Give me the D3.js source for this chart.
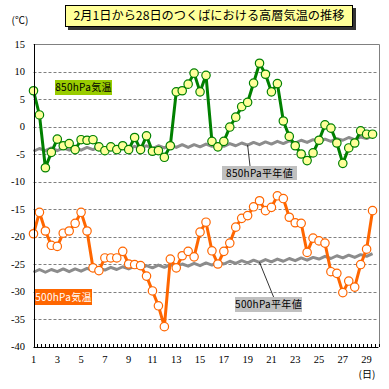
<!DOCTYPE html>
<html><head><meta charset="utf-8">
<script src="https://cdn.jsdelivr.net/npm/d3@7"></script>
<style>html,body{margin:0;padding:0;background:#fff;}</style>
</head><body>
<svg id="c" width="389" height="389"></svg>
<script>
// data: observations twice a day (index i -> day 1 + i*0.5)
const t850 = [6.5,2.1,-7.5,-4.7,-2.3,-3.5,-3.1,-4.2,-2.4,-2.5,
  -2.4,-3.7,-4.4,-3.7,-4.2,-3.5,-4.2,-2.0,-4.2,-1.7,
  -4.5,-4.4,-5.6,-3.5,6.3,6.5,7.7,9.7,6.3,9.3,
  -2.7,-3.7,-2.7,-0.1,1.7,3.6,4.4,7.9,11.5,9.5,
  6.3,7.8,1.0,-1.8,-3.5,-5.0,-6.2,-4.8,-2.5,0.3,
  -0.3,-3.0,-6.7,-3.9,-3.0,-0.8,-1.4,-1.4];
const t500 = [-19.5,-15.6,-19.0,-21.6,-21.8,-19.4,-19.0,-17.6,-15.6,-19.0,
  -25.7,-26.2,-23.9,-23.9,-23.9,-22.7,-25.0,-25.1,-25.3,-27.2,
  -29.9,-32.6,-36.4,-24.1,-25.7,-23.5,-22.7,-23.7,-19.2,-17.4,
  -22.6,-25.0,-22.7,-21.2,-18.3,-16.7,-16.2,-14.6,-13.5,-15.3,
  -14.7,-12.6,-13.1,-16.5,-17.5,-17.6,-22.9,-20.3,-20.8,-21.2,
  -26.4,-26.7,-30.2,-28.1,-29.2,-25.1,-22.3,-15.3];
const n850 = [-4.5,-4.0,-4.4,-3.9,-4.4,-3.9,-4.3,-3.8,-4.3,-3.8,
  -4.2,-3.7,-4.2,-3.7,-4.1,-3.6,-4.1,-3.6,-4.0,-3.5,
  -4.0,-3.5,-3.9,-3.4,-3.8,-3.3,-3.8,-3.3,-3.7,-3.2,
  -3.6,-3.1,-3.6,-3.1,-3.5,-3.0,-3.4,-2.9,-3.3,-2.8,
  -3.2,-2.7,-3.1,-2.6,-3.0,-2.5,-2.9,-2.4,-2.8,-2.3,
  -2.7,-2.2,-2.5,-2.0,-2.4,-1.9,-2.2,-1.7];
const n500 = [-26.5,-26.0,-26.5,-26.0,-26.4,-25.9,-26.4,-25.9,-26.3,-25.8,
  -26.2,-25.7,-26.1,-25.6,-26.0,-25.5,-25.9,-25.4,-25.8,-25.3,
  -25.7,-25.2,-25.6,-25.1,-25.5,-25.0,-25.4,-24.9,-25.3,-24.8,
  -25.2,-24.7,-25.0,-24.5,-24.9,-24.4,-24.8,-24.3,-24.7,-24.2,
  -24.6,-24.1,-24.5,-24.0,-24.4,-23.9,-24.3,-23.8,-24.1,-23.6,
  -24.0,-23.5,-23.9,-23.4,-23.8,-23.3,-23.6,-23.1];
const xTickLabels = [1,3,5,7,9,11,13,15,17,19,21,23,25,27,29];
const yTickLabels = [15,10,5,0,-5,-10,-15,-20,-25,-30,-35,-40];
const title = "2月1日から28日のつくばにおける高層気温の推移";

const svg = d3.select("#c");
const x = d3.scaleLinear().domain([1,30]).range([33.5,378.5]);
const y = d3.scaleLinear().domain([-40,15]).range([346.5,44]);
const dayOf = i => 1 + i*0.5;
const L=x(1), R=x(30), T=y(15), B=y(-40);

// gridlines
svg.append("g").selectAll("line").data(yTickLabels.filter(v=>v>-40&&v<15)).join("line")
  .attr("x1",L).attr("x2",R).attr("y1",d=>Math.round(y(d))+0.5).attr("y2",d=>Math.round(y(d))+0.5)
  .attr("stroke","#808080").attr("stroke-width",1).attr("stroke-dasharray","3,2");
// top & right border
svg.append("path").attr("d",`M${L},${Math.round(T)+0.5}H${Math.round(R)+0.5}V${B}`)
  .attr("fill","none").attr("stroke","#808080").attr("stroke-width",1);

// normals
const line = d3.line().x((d,i)=>x(dayOf(i))).y(d=>y(d));
[n850,n500].forEach(arr=>{
  svg.append("path").attr("d",line(arr)).attr("fill","none")
    .attr("stroke","#8c8c8c").attr("stroke-width",3).attr("stroke-linejoin","round");
});

// leader lines
svg.append("line").attr("x1",x(dayOf(36))).attr("y1",y(n850[36])).attr("x2",250).attr("y2",166)
  .attr("stroke","#000").attr("stroke-width",0.8);
svg.append("line").attr("x1",x(dayOf(38))).attr("y1",y(n500[38])).attr("x2",274).attr("y2",298)
  .attr("stroke","#000").attr("stroke-width",0.8);

// series
function series(arr,col,fill){
  svg.append("path").attr("d",line(arr)).attr("fill","none")
    .attr("stroke",col).attr("stroke-width",3).attr("stroke-linejoin","round");
  svg.append("g").selectAll("circle").data(arr).join("circle")
    .attr("cx",(d,i)=>x(dayOf(i))).attr("cy",d=>y(d)).attr("r",4.2)
    .attr("fill",fill).attr("stroke",col).attr("stroke-width",1.2);
}
series(t850,"#008000","#ffff99");
series(t500,"#ff6600","#ffffff");

// axes
svg.append("line").attr("x1",Math.round(L)+0.5).attr("x2",Math.round(L)+0.5).attr("y1",T).attr("y2",Math.round(B)+0.5)
  .attr("stroke","#000").attr("stroke-width",1);
svg.append("line").attr("x1",L).attr("x2",R).attr("y1",Math.round(B)+0.5).attr("y2",Math.round(B)+0.5)
  .attr("stroke","#000").attr("stroke-width",1);
svg.append("g").selectAll("line").data(d3.range(1,30.001,1/3)).join("line")
  .attr("x1",d=>Math.round(x(d))+0.5).attr("x2",d=>Math.round(x(d))+0.5)
  .attr("y1",Math.round(B)).attr("y2",Math.round(B)-3).attr("stroke","#000").attr("stroke-width",1);

// tick labels
svg.append("g").selectAll("text").data(yTickLabels).join("text")
  .attr("x",25).attr("y",d=>y(d)).attr("dy","0.35em").attr("text-anchor","end")
  .attr("font-family","Liberation Serif").attr("font-size",10.5).attr("fill","#000")
  .text(d=>d);
svg.append("g").selectAll("text").data(xTickLabels).join("text")
  .attr("x",d=>x(d)).attr("y",363).attr("text-anchor","middle")
  .attr("font-family","Liberation Serif").attr("font-size",10.5).attr("fill","#000")
  .text(d=>d);
svg.append("text").attr("x",367).attr("y",378).attr("text-anchor","middle")
  .attr("font-family","Noto Sans CJK JP").attr("font-size",10).text("(日)");
svg.append("text").attr("x",20).attr("y",24).attr("text-anchor","middle")
  .attr("font-family","Noto Sans CJK JP").attr("font-size",10).text("(℃)");

// labels
function label(tx,x0,y0,w,h,bg,fg){
  svg.append("rect").attr("x",x0).attr("y",y0).attr("width",w).attr("height",h).attr("fill",bg);
  svg.append("text").attr("x",x0+w/2).attr("y",y0+h/2).attr("dy","0.36em").attr("text-anchor","middle")
    .attr("font-family","Noto Sans CJK JP").attr("font-size",10).attr("letter-spacing",0.3).attr("fill",fg).text(tx);
}
label("850hPa気温",55,80,57,15,"#99cc00","#000");
label("500hPa気温",35,289,57,16,"#ff6600","#fff");
label("850hPa平年値",222,166,75,14,"#c0c0c0","#000");
label("500hPa平年値",235,297,67,15,"#c0c0c0","#000");

// title
svg.append("rect").attr("x",68).attr("y",8).attr("width",288).attr("height",22).attr("fill","#333");
svg.append("rect").attr("x",65.5).attr("y",5.5).attr("width",287).attr("height",21)
  .attr("fill","#ffff99").attr("stroke","#000").attr("stroke-width",1);
svg.append("text").attr("x",209).attr("y",16).attr("dy","0.36em").attr("text-anchor","middle")
  .attr("font-family","Noto Sans CJK JP").attr("font-size",12.2).attr("fill","#000").text(title);
</script>
</body></html>
